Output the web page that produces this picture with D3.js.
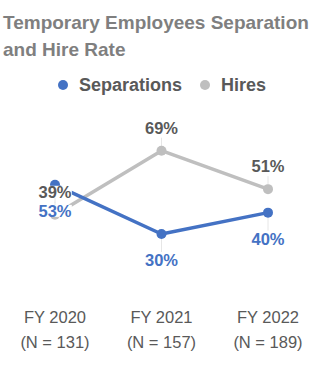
<!DOCTYPE html>
<html><head><meta charset="utf-8">
<script src="https://cdn.jsdelivr.net/npm/d3@7"></script>
<style>html,body{margin:0;padding:0;background:#fff;}svg{display:block;}</style>
</head><body>
<script>
const categories = ["FY 2020", "FY 2021", "FY 2022"];
const sampleSizes = ["(N = 131)", "(N = 157)", "(N = 189)"];
const separations = [53, 30, 40];
const hires = [39, 69, 51];
const seriesNames = ["Separations", "Hires"];

const W = 332, H = 384;
const svg = d3.select("body").append("svg").attr("width", W).attr("height", H);
const font = "'Liberation Sans', Arial, sans-serif";
const blue = "#4472C4", gray = "#BFBFBF", textGray = "#595959";

// Title
svg.append("text").attr("x", 3).attr("y", 29)
  .attr("font-family", font).attr("font-weight", "bold").attr("font-size", 19)
  .attr("fill", "#7F7F7F").text("Temporary Employees Separation");
svg.append("text").attr("x", 3).attr("y", 56)
  .attr("font-family", font).attr("font-weight", "bold").attr("font-size", 19)
  .attr("fill", "#7F7F7F").text("and Hire Rate");

// Legend
const legend = [{name: seriesNames[0], color: blue, x: 63}, {name: seriesNames[1], color: gray, x: 205}];
legend.forEach(l => {
  svg.append("circle").attr("cx", l.x).attr("cy", 85).attr("r", 5).attr("fill", l.color);
  svg.append("text").attr("x", l.x + 16).attr("y", 91)
    .attr("font-family", font).attr("font-weight", "bold").attr("font-size", 18)
    .attr("fill", textGray).text(l.name);
});

const x = d3.scalePoint().domain(categories).range([55, 268]);
const y = d3.scaleLinear().domain([30, 69]).range([234, 150.7]);

const line = d3.line().x((d, i) => x(categories[i])).y(d => y(d));

const series = [
  {vals: hires, color: gray, labelColor: textGray, dy: -17},
  {vals: separations, color: blue, labelColor: blue, dy: 32}
];

// leader lines
series.forEach(s => {
  s.vals.forEach((v, i) => {
    const px = x(categories[i]), py = y(v);
    const y2 = s.dy < 0 ? py + s.dy + 4 : py + s.dy - 14;
    svg.append("line").attr("x1", px).attr("x2", px).attr("y1", py).attr("y2", y2)
      .attr("stroke", "#E6E6E6").attr("stroke-width", 1);
  });
});

series.forEach(s => {
  svg.append("path").datum(s.vals).attr("d", line).attr("fill", "none")
    .attr("stroke", s.color).attr("stroke-width", 3.5).attr("stroke-linejoin", "round");
  svg.selectAll(null).data(s.vals).enter().append("circle")
    .attr("cx", (d, i) => x(categories[i])).attr("cy", d => y(d)).attr("r", 5)
    .attr("fill", s.color);
});

series.forEach(s => {
  const g = svg.append("g");
  s.vals.forEach((v, i) => {
    const t = g.append("text")
      .attr("x", x(categories[i]))
      .attr("y", y(v) + s.dy)
      .attr("text-anchor", "middle")
      .attr("font-family", font).attr("font-weight", "bold").attr("font-size", 16.5)
      .attr("fill", s.labelColor).text(v + "%");
    const bb = t.node().getBBox();
    g.insert("rect", "text").attr("x", bb.x).attr("y", bb.y + 3)
      .attr("width", bb.width).attr("height", bb.height - 6).attr("fill", "#fff");
  });
});

// category labels
categories.forEach((c, i) => {
  svg.append("text").attr("x", x(c)).attr("y", 323).attr("text-anchor", "middle")
    .attr("font-family", font).attr("font-size", 16.5).attr("fill", textGray).text(c);
  svg.append("text").attr("x", x(c)).attr("y", 348).attr("text-anchor", "middle")
    .attr("font-family", font).attr("font-size", 16.5).attr("fill", textGray).text(sampleSizes[i]);
});
</script>
</body></html>
